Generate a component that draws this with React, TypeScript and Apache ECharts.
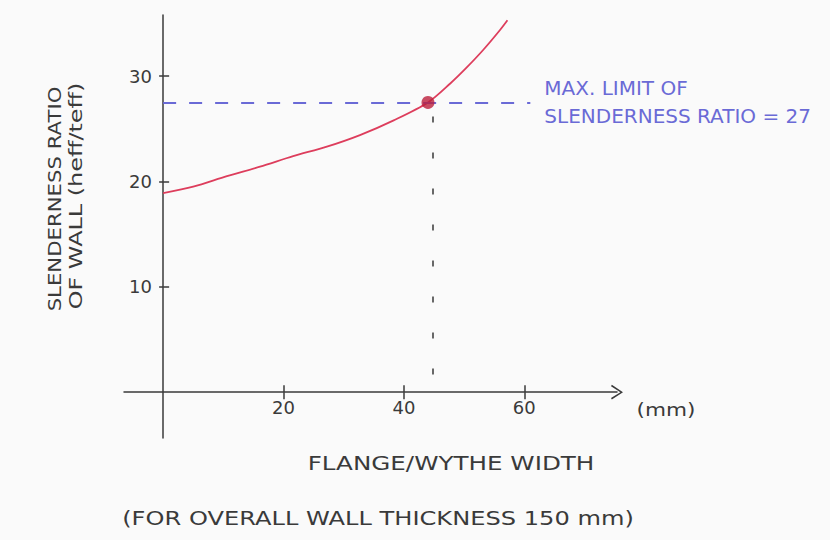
import React, { useEffect, useRef } from "react";
import * as echarts from "echarts";

// ---- data ----
const flangeWidth = [0, 5, 10.6, 16.1, 21.6, 27.2, 32.7, 38.3, 44, 47.7, 50.4, 53.2, 56.0, 57.2];
const slenderness = [18.9, 19.5, 20.5, 21.4, 22.4, 23.3, 24.4, 25.8, 27.5, 29.3, 30.8, 32.5, 34.4, 35.3];
const xTicks = [20, 40, 60];
const yTicks = [10, 20, 30];
const limitRatioDrawn = 27.5;
const limitRatioLabel = 27;
const limitPoint = [44, 27.5];
const limitLineEndX = 61;
const dropLineX = 44.8;
const dropLineBottom = -1;
const xRange = [-6.5, 75.4];
const yRange = [-4.35, 35.8];

const FONT = '"DejaVu Sans", "Liberation Sans", sans-serif';
const PENCIL = "#3a3a3a";
const BLUE = "#6a6ad6";
const RED = "#dd3d5c";

const arrowPath =
  "path://M0,12 L8,0 L16,12 L14.4,12.9 L8,2.8 L1.6,12.9 Z";

export default function App() {
  const ref = useRef<HTMLDivElement>(null);

  useEffect(() => {
    if (!ref.current) return;
    const chart = echarts.init(ref.current, null, { renderer: "svg" });

    const axisLineStyle = { color: PENCIL, width: 1.5 };

    const option: any = {
      animation: false,
      backgroundColor: "#fafafa",
      grid: { left: 124, right: 213, top: 15, bottom: 102 },
      xAxis: [
        {
          type: "value",
          min: xRange[0],
          max: xRange[1],
          position: "bottom",
          axisLine: {
            onZero: true,
            onZeroAxisIndex: 0,
            lineStyle: axisLineStyle,
            symbol: ["none", arrowPath],
            symbolSize: [16, 12],
          },
          axisTick: { show: true, customValues: xTicks, length: 7, lineStyle: axisLineStyle },
          axisLabel: {
            customValues: xTicks,
            margin: -40,
            fontSize: 18,
            fontFamily: FONT,
            color: PENCIL,
          },
          splitLine: { show: false },
        },
        {
          type: "value",
          min: xRange[0],
          max: xRange[1],
          position: "top",
          axisLine: {
            show: true,
            onZero: true,
            onZeroAxisIndex: 1,
            lineStyle: { color: PENCIL, width: 0, opacity: 0 },
          },
          axisTick: { show: true, customValues: xTicks, length: 7, lineStyle: axisLineStyle },
          axisLabel: { show: false },
          splitLine: { show: false },
        },
      ],
      yAxis: [
        {
          type: "value",
          min: yRange[0],
          max: yRange[1],
          position: "left",
          axisLine: { show: true, onZero: true, onZeroAxisIndex: 0, lineStyle: axisLineStyle },
          axisTick: { show: true, customValues: yTicks, length: 4, lineStyle: axisLineStyle },
          axisLabel: {
            customValues: yTicks,
            margin: -28,
            fontSize: 18,
            fontFamily: FONT,
            color: PENCIL,
          },
          splitLine: { show: false },
        },
        {
          type: "value",
          min: yRange[0],
          max: yRange[1],
          position: "right",
          axisLine: {
            show: true,
            onZero: true,
            onZeroAxisIndex: 1,
            lineStyle: { color: PENCIL, width: 0, opacity: 0 },
          },
          axisTick: { show: true, customValues: yTicks, length: 6, lineStyle: axisLineStyle },
          axisLabel: { show: false },
          splitLine: { show: false },
        },
      ],
      series: [
        {
          type: "line",
          data: flangeWidth.map((x, i) => [x, slenderness[i]]),
          smooth: 0.3,
          showSymbol: false,
          lineStyle: { color: RED, width: 1.8 },
          z: 2,
          markLine: {
            silent: true,
            symbol: "none",
            animation: false,
            data: [
              [
                {
                  coord: [0, limitRatioDrawn],
                  lineStyle: { color: BLUE, width: 2, type: [13, 13] },
                  label: {
                    show: true,
                    position: "end",
                    distance: 14,
                    formatter:
                      "MAX. LIMIT OF\nSLENDERNESS RATIO = " + limitRatioLabel,
                    color: BLUE,
                    fontSize: 20,
                    fontFamily: FONT,
                    lineHeight: 28,
                    align: "left",
                  },
                },
                { coord: [limitLineEndX, limitRatioDrawn] },
              ],
              [
                {
                  coord: [dropLineX, limitRatioDrawn],
                  lineStyle: { color: "#444", width: 1.6, type: [6, 30], dashOffset: -14 },
                  label: { show: false },
                },
                { coord: [dropLineX, dropLineBottom] },
              ],
            ],
          },
        },
        {
          type: "scatter",
          data: [limitPoint],
          symbolSize: 13,
          itemStyle: { color: "#bb1f3c" },
          z: 5,
        },
      ],
      graphic: [
        {
          type: "text",
          x: 55,
          y: 199,
          rotation: Math.PI / 2,
          scaleX: 1.18,
          style: {
            text: "SLENDERNESS RATIO",
            font: "18px " + FONT,
            fill: PENCIL,
            textAlign: "center",
            textVerticalAlign: "middle",
          },
        },
        {
          type: "text",
          x: 76,
          y: 196,
          rotation: Math.PI / 2,
          scaleX: 1.33,
          style: {
            text: "OF WALL (heff/teff)",
            font: "18px " + FONT,
            fill: PENCIL,
            textAlign: "center",
            textVerticalAlign: "middle",
          },
        },
        {
          type: "text",
          x: 666,
          y: 410,
          scaleX: 1.2,
          style: {
            text: "(mm)",
            font: "18px " + FONT,
            fill: PENCIL,
            textAlign: "center",
            textVerticalAlign: "middle",
          },
        },
        {
          type: "text",
          x: 451,
          y: 463,
          scaleX: 1.23,
          style: {
            text: "FLANGE/WYTHE WIDTH",
            font: "20px " + FONT,
            fill: PENCIL,
            textAlign: "center",
            textVerticalAlign: "middle",
          },
        },
        {
          type: "text",
          x: 378,
          y: 518,
          scaleX: 1.27,
          style: {
            text: "(FOR OVERALL WALL THICKNESS 150 mm)",
            font: "19px " + FONT,
            fill: PENCIL,
            textAlign: "center",
            textVerticalAlign: "middle",
          },
        },
      ],
    };

    chart.setOption(option);
    return () => chart.dispose();
  }, []);

  return (
    <div
      ref={ref}
      style={{ position: "absolute", left: 0, top: 0, width: 830, height: 540 }}
    />
  );
}
